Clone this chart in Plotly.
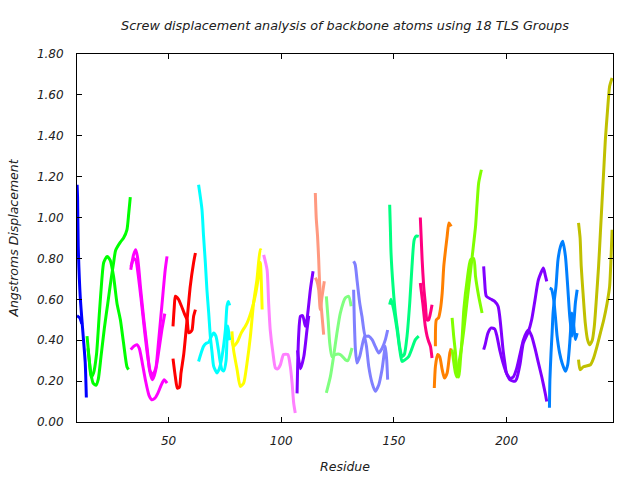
import plotly.graph_objects as go

# ---- data: residue numbers and screw displacement (Angstroms) per TLS group ----
g01_colour = "#0000ff"
g01_res_a = [9.4, 9.6, 9.9, 10.8, 12.1, 13.0, 13.5]
g01_val_a = [1.16, 1.10, 0.86, 0.61, 0.42, 0.29, 0.12]
g01_res_b = [9.35, 10.5, 11.5]
g01_val_b = [0.52, 0.51, 0.48]

g02_colour = "#00ff00"
g02_res_a = [13.8, 14.8, 15.6, 16.7, 18.0, 19.2, 20.4, 21.2, 22.7, 24.1, 25.6, 27.1, 28.6, 30.0, 31.5, 32.2]
g02_val_a = [0.42, 0.30, 0.22, 0.24, 0.33, 0.52, 0.70, 0.78, 0.81, 0.79, 0.71, 0.58, 0.50, 0.386, 0.27, 0.256]
g02_res_b = [14.2, 15.5, 16.5, 17.8, 18.8, 20.0, 21.5, 23.0, 24.5, 25.6, 26.5, 28.6, 30.0, 31.5, 32.3, 33.0]
g02_val_b = [0.36, 0.24, 0.19, 0.18, 0.21, 0.32, 0.46, 0.58, 0.70, 0.78, 0.84, 0.88, 0.90, 0.94, 1.02, 1.10]

g03_colour = "#ff00ff"
g03_res_a = [33.2, 34.5, 35.4, 36.3, 37.6, 39.0, 40.5, 41.6, 42.8, 44.2, 45.6, 47.1, 48.5, 49.3]
g03_val_a = [0.745, 0.82, 0.843, 0.80, 0.65, 0.50, 0.36, 0.25, 0.207, 0.25, 0.40, 0.58, 0.745, 0.81]
g03_res_b = [33.3, 34.5, 35.5, 36.5, 37.8, 39.2, 40.6, 41.8, 43.0, 44.5, 45.8, 47.0, 48.3]
g03_val_b = [0.76, 0.80, 0.79, 0.72, 0.60, 0.46, 0.33, 0.25, 0.23, 0.27, 0.36, 0.45, 0.53]
g03_res_c = [33.2, 34.5, 36.0, 37.0, 38.3, 39.8, 41.3, 42.5, 43.8, 45.2, 46.7, 48.0, 49.3]
g03_val_c = [0.354, 0.37, 0.378, 0.36, 0.29, 0.20, 0.13, 0.109, 0.115, 0.14, 0.18, 0.207, 0.19]

g04_colour = "#ff0000"
g04_res_a = [51.95, 52.5, 53.0, 54.4, 55.6, 57.0, 58.2, 58.9, 59.7, 60.4, 61.1, 61.9]
g04_val_a = [0.468, 0.56, 0.615, 0.60, 0.57, 0.53, 0.50, 0.437, 0.44, 0.45, 0.517, 0.55]
g04_res_b = [51.95, 53.0, 53.9, 54.8, 55.5, 56.7, 58.2, 59.6, 61.1, 61.9]
g04_val_b = [0.31, 0.22, 0.165, 0.17, 0.24, 0.33, 0.50, 0.663, 0.78, 0.827]

g05_colour = "#00ffff"
g05_res_a = [63.3, 64.8, 65.5, 66.3, 67.0, 67.8, 68.5, 69.3, 70.0, 71.5, 72.5, 73.7, 75.2, 75.9, 76.5, 77.1]
g05_val_a = [1.16, 1.04, 0.91, 0.78, 0.647, 0.533, 0.42, 0.338, 0.272, 0.24, 0.26, 0.32, 0.45, 0.566, 0.59, 0.57]
g05_res_b = [63.3, 64.5, 65.5, 66.7, 67.8, 69.0, 70.0, 71.0, 72.0, 72.8, 73.7, 74.5, 75.5, 76.2, 77.1]
g05_val_b = [0.296, 0.34, 0.37, 0.385, 0.39, 0.42, 0.435, 0.42, 0.36, 0.30, 0.256, 0.25, 0.30, 0.47, 0.40]

g06_colour = "#ffff00"
g06_res_a = [78.1, 78.8, 80.4, 81.8, 83.3, 84.8, 86.3, 87.7, 89.2, 90.7, 91.2]
g06_val_a = [0.443, 0.354, 0.256, 0.174, 0.19, 0.289, 0.42, 0.582, 0.696, 0.843, 0.84]
g06_res_b = [78.1, 78.8, 80.4, 82.2, 84.8, 86.9, 88.4, 89.9, 90.7, 91.5]
g06_val_b = [0.40, 0.37, 0.39, 0.435, 0.484, 0.55, 0.615, 0.712, 0.78, 0.55]

g07_colour = "#ff80ff"
g07_res_a = [92.2, 93.7, 94.4, 95.1, 96.3, 97.4, 98.4, 99.6, 101.0, 102.9, 104.0, 104.8, 105.5, 106.2]
g07_val_a = [0.818, 0.745, 0.58, 0.45, 0.338, 0.264, 0.26, 0.28, 0.33, 0.33, 0.272, 0.19, 0.093, 0.044]

g08_colour = "#8000ff"
g08_res_a = [107.0, 107.3, 107.7, 108.5, 109.5, 110.7, 111.4, 112.9, 114.1]
g08_val_a = [0.14, 0.29, 0.42, 0.517, 0.52, 0.468, 0.50, 0.647, 0.737]
g08_res_b = [107.2, 108.5, 110.0, 111.4, 112.2]
g08_val_b = [0.35, 0.26, 0.32, 0.45, 0.52]

g09_colour = "#ff9980"
g09_res_a = [115.1, 115.5, 116.1, 116.6, 117.0, 117.6, 118.1, 118.8]
g09_val_a = [1.12, 1.0, 0.908, 0.794, 0.68, 0.582, 0.517, 0.427]
g09_res_b = [115.1, 115.8, 116.6, 117.3, 118.1, 119.1]
g09_val_b = [0.705, 0.69, 0.647, 0.55, 0.615, 0.688]

g10_colour = "#80ff80"
g10_res_a = [120.0, 120.8, 121.5, 122.5, 124.0, 126.2, 128.4, 129.5, 131.4]
g10_val_a = [0.615, 0.50, 0.386, 0.32, 0.33, 0.33, 0.305, 0.30, 0.362]
g10_res_b = [120.0, 121.8, 123.2, 124.7, 126.2, 128.4, 129.9, 131.0]
g10_val_b = [0.142, 0.223, 0.32, 0.435, 0.533, 0.607, 0.615, 0.566]

g11_colour = "#8080ff"
g11_res_a = [132.1, 132.8, 133.6, 134.8, 135.8, 137.3, 138.8, 140.3, 141.7, 143.2, 144.7, 146.2, 147.2]
g11_val_a = [0.786, 0.77, 0.696, 0.582, 0.517, 0.42, 0.42, 0.403, 0.37, 0.338, 0.36, 0.403, 0.45]
g11_res_b = [132.1, 132.4, 132.9, 133.6, 134.8, 135.8, 136.9, 137.8, 138.8, 140.3, 141.7, 143.2, 144.7, 146.2, 146.8, 147.2]
g11_val_b = [0.647, 0.50, 0.354, 0.289, 0.32, 0.37, 0.42, 0.37, 0.272, 0.19, 0.15, 0.18, 0.256, 0.37, 0.30, 0.207]

g12_colour = "#00ff80"
g12_res_a = [148.1, 148.4, 148.7, 149.6, 150.6, 151.6, 152.5, 153.6, 154.6, 155.8, 157.0, 158.0, 159.0, 160.0, 161.0]
g12_val_a = [1.063, 0.95, 0.827, 0.663, 0.533, 0.45, 0.37, 0.32, 0.33, 0.42, 0.582, 0.761, 0.892, 0.91, 0.908]
g12_res_b = [148.1, 148.7, 149.9, 151.4, 152.5, 153.6, 155.0, 156.5, 158.0, 159.5, 161.0]
g12_val_b = [0.574, 0.60, 0.55, 0.45, 0.36, 0.296, 0.305, 0.32, 0.36, 0.403, 0.42]

g13_colour = "#ff0080"
g13_res_a = [161.7, 162.5, 163.2, 163.9, 164.7, 165.4, 166.2, 166.9]
g13_val_a = [1.0, 0.794, 0.663, 0.582, 0.50, 0.50, 0.533, 0.574]
g13_res_b = [161.7, 162.8, 163.9, 164.7, 165.4, 166.2, 166.9]
g13_val_b = [0.68, 0.58, 0.468, 0.42, 0.394, 0.37, 0.313]

g14_colour = "#ff8000"
g14_res_a = [167.9, 168.4, 169.4, 170.3, 171.4, 172.4, 173.6, 174.8, 175.4]
g14_val_a = [0.166, 0.272, 0.33, 0.32, 0.256, 0.215, 0.24, 0.338, 0.36]
g14_res_b = [168.4, 168.8, 169.8, 170.6, 171.4, 172.1, 172.9, 173.6, 174.4, 175.4]
g14_val_b = [0.37, 0.50, 0.51, 0.55, 0.63, 0.761, 0.843, 0.908, 0.974, 0.957]

g15_colour = "#80ff00"
g15_res_a = [175.8, 176.5, 177.3, 178.0, 178.8, 179.5, 180.3, 181.0, 182.5, 184.0, 185.4, 186.2, 187.6, 189.1]
g15_val_a = [0.509, 0.42, 0.338, 0.24, 0.22, 0.305, 0.42, 0.55, 0.696, 0.794, 0.80, 0.712, 0.615, 0.533]
g15_res_b = [175.8, 177.3, 178.0, 178.8, 179.5, 181.0, 182.5, 184.0, 185.4, 186.2, 186.9, 187.6, 188.8]
g15_val_b = [0.354, 0.24, 0.22, 0.29, 0.33, 0.45, 0.598, 0.74, 0.876, 0.957, 1.07, 1.17, 1.234]

g16_colour = "#8000ff"
g16_res_a = [189.8, 190.2, 191.0, 193.2, 194.7, 196.2, 196.9, 197.7, 198.4, 199.2, 199.9, 201.4, 202.9, 204.4,
             205.9, 207.4, 208.9, 209.6, 211.1, 212.6, 214.1, 215.6, 217.1, 217.8]
g16_val_a = [0.761, 0.696, 0.615, 0.60, 0.59, 0.566, 0.52, 0.435, 0.354, 0.289, 0.24, 0.215, 0.22, 0.26,
             0.33, 0.40, 0.44, 0.45, 0.42, 0.36, 0.289, 0.22, 0.142, 0.10]
g16_res_b = [189.8, 190.5, 191.7, 193.2, 194.7, 195.7, 196.9, 198.4, 199.9, 201.4, 203.6, 204.4, 205.9, 207.4,
             209.6, 211.1, 212.6, 214.1, 216.3, 217.1, 217.8]
g16_val_b = [0.354, 0.38, 0.435, 0.46, 0.455, 0.42, 0.354, 0.29, 0.24, 0.207, 0.199, 0.21, 0.28, 0.386,
             0.44, 0.50, 0.598, 0.696, 0.753, 0.72, 0.688]

g17_colour = "#0080ff"
g17_res_a = [219.0, 219.2, 219.7, 220.2, 220.6, 221.2, 221.9, 222.8, 223.9, 224.9, 226.1, 227.1, 228.0, 229.0,
             229.8, 230.5, 231.3]
g17_val_a = [0.07, 0.207, 0.338, 0.44, 0.533, 0.60, 0.663, 0.794, 0.859, 0.884, 0.81, 0.663, 0.517, 0.42,
             0.48, 0.582, 0.647]
g17_res_b = [219.1, 219.9, 220.9, 221.6, 222.4, 223.5, 224.6, 226.1, 227.1, 228.0, 229.0, 229.8, 230.5, 231.3]
g17_val_b = [0.655, 0.65, 0.598, 0.52, 0.42, 0.338, 0.289, 0.248, 0.28, 0.386, 0.533, 0.47, 0.403, 0.435]

g18_colour = "#c0c000"
g18_res_a = [231.9, 232.6, 233.1, 233.9, 234.9, 235.9, 236.8, 238.0, 238.9, 239.8, 240.8, 241.6, 242.3, 243.1,
             243.8, 244.8, 245.7, 246.8]
g18_val_a = [0.974, 0.90, 0.761, 0.631, 0.484, 0.403, 0.378, 0.40, 0.468, 0.598, 0.761, 0.925, 1.07, 1.234,
             1.38, 1.528, 1.642, 1.683]
g18_res_b = [231.9, 232.6, 234.1, 237.2, 238.6, 240.1, 241.6, 243.1, 244.6, 245.7, 246.3, 246.8]
g18_val_b = [0.305, 0.256, 0.27, 0.28, 0.313, 0.37, 0.435, 0.50, 0.582, 0.663, 0.794, 0.94]

x_tick_values = [50, 100, 150, 200]
y_tick_values = [0.0, 0.2, 0.4, 0.6, 0.8, 1.0, 1.2, 1.4, 1.6, 1.8]
y_tick_labels = ["0.00", "0.20", "0.40", "0.60", "0.80", "1.00", "1.20", "1.40", "1.60", "1.80"]

title_text = "Screw displacement analysis of backbone atoms using 18 TLS Groups"
x_title = "Residue"
y_title = "Angstroms Displacement"

series = [
    (g01_colour, g01_res_a, g01_val_a), (g01_colour, g01_res_b, g01_val_b),
    (g02_colour, g02_res_a, g02_val_a), (g02_colour, g02_res_b, g02_val_b),
    (g03_colour, g03_res_a, g03_val_a), (g03_colour, g03_res_b, g03_val_b), (g03_colour, g03_res_c, g03_val_c),
    (g04_colour, g04_res_a, g04_val_a), (g04_colour, g04_res_b, g04_val_b),
    (g05_colour, g05_res_a, g05_val_a), (g05_colour, g05_res_b, g05_val_b),
    (g06_colour, g06_res_a, g06_val_a), (g06_colour, g06_res_b, g06_val_b),
    (g07_colour, g07_res_a, g07_val_a),
    (g08_colour, g08_res_a, g08_val_a), (g08_colour, g08_res_b, g08_val_b),
    (g09_colour, g09_res_a, g09_val_a), (g09_colour, g09_res_b, g09_val_b),
    (g10_colour, g10_res_a, g10_val_a), (g10_colour, g10_res_b, g10_val_b),
    (g11_colour, g11_res_a, g11_val_a), (g11_colour, g11_res_b, g11_val_b),
    (g12_colour, g12_res_a, g12_val_a), (g12_colour, g12_res_b, g12_val_b),
    (g13_colour, g13_res_a, g13_val_a), (g13_colour, g13_res_b, g13_val_b),
    (g14_colour, g14_res_a, g14_val_a), (g14_colour, g14_res_b, g14_val_b),
    (g15_colour, g15_res_a, g15_val_a), (g15_colour, g15_res_b, g15_val_b),
    (g16_colour, g16_res_a, g16_val_a), (g16_colour, g16_res_b, g16_val_b),
    (g17_colour, g17_res_a, g17_val_a), (g17_colour, g17_res_b, g17_val_b),
    (g18_colour, g18_res_a, g18_val_a), (g18_colour, g18_res_b, g18_val_b),
]

fig = go.Figure()
for colour, xs, ys in series:
    fig.add_trace(go.Scatter(
        x=xs, y=ys, mode="lines",
        line=dict(color=colour, width=3, shape="spline", smoothing=0.6),
        showlegend=False, hoverinfo="skip",
    ))

font_family = "DejaVu Sans"
italic = dict(family=font_family, size=12, color="#202020", style="italic")
italic_title = dict(family=font_family, size=12.5, color="#202020", style="italic")

fig.update_layout(
    width=640, height=480,
    margin=dict(l=77, r=27, t=54, b=58, autoexpand=False),
    paper_bgcolor="white", plot_bgcolor="white",
    title=dict(text=title_text, x=0.5, xref="paper", xanchor="center",
               y=1 - 26 / 480, yanchor="middle", automargin=False,
               font=dict(family=font_family, size=12.8, color="#202020", style="italic")),
    showlegend=False,
)
fig.update_xaxes(
    range=[9.35, 247.2], tickvals=x_tick_values, ticks="inside", ticklen=5,
    tickcolor="black", showline=True, linecolor="black", linewidth=1, mirror="ticks",
    showgrid=False, zeroline=False, tickfont=italic, ticklabelstandoff=8, automargin=False,
    title=dict(text=x_title, font=italic_title, standoff=14),
)
fig.update_yaxes(
    range=[0, 1.8], tickvals=y_tick_values, ticktext=y_tick_labels, ticks="inside", ticklen=5,
    tickcolor="black", showline=True, linecolor="black", linewidth=1, mirror="ticks",
    showgrid=False, zeroline=False, tickfont=italic, ticklabelstandoff=10, automargin=False,
    title=dict(text=y_title, font=italic_title, standoff=15),
)

fig.write_html("out.html")
